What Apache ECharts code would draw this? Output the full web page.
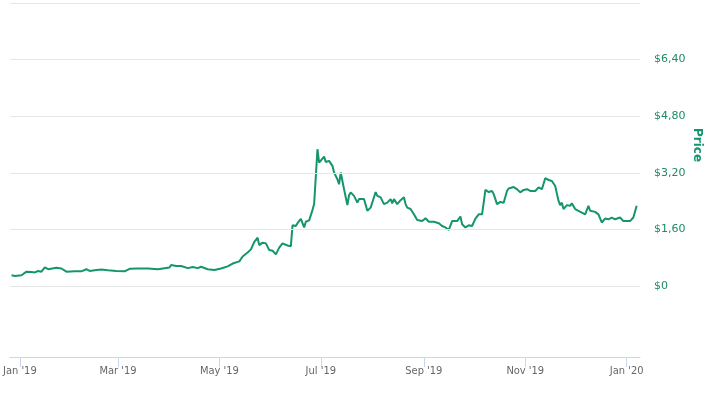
<!DOCTYPE html>
<html>
<head>
<meta charset="utf-8">
<script src="https://cdn.jsdelivr.net/npm/echarts@6/dist/echarts.min.js"></script>
<style>html,body{margin:0;padding:0;background:#fff;}#c{width:707px;height:396px;}</style>
</head>
<body>
<div id="c"></div>
<script>
var dates = ["2018-12-27","2018-12-29","2019-01-02","2019-01-05","2019-01-08","2019-01-10","2019-01-12","2019-01-14","2019-01-16","2019-01-18","2019-01-23","2019-01-26","2019-01-29","2019-01-30","2019-02-03","2019-02-07","2019-02-10","2019-02-12","2019-02-15","2019-02-19","2019-02-23","2019-02-28","2019-03-05","2019-03-08","2019-03-13","2019-03-19","2019-03-25","2019-03-29","2019-04-01","2019-04-02","2019-04-05","2019-04-08","2019-04-12","2019-04-15","2019-04-18","2019-04-20","2019-04-24","2019-04-28","2019-05-02","2019-05-06","2019-05-09","2019-05-10","2019-05-13","2019-05-15","2019-05-18","2019-05-20","2019-05-22","2019-05-23","2019-05-24","2019-05-25","2019-05-27","2019-05-29","2019-05-31","2019-06-02","2019-06-04","2019-06-06","2019-06-08","2019-06-09","2019-06-11","2019-06-13","2019-06-14","2019-06-16","2019-06-17","2019-06-19","2019-06-21","2019-06-22","2019-06-24","2019-06-26","2019-06-27","2019-06-28","2019-06-29","2019-06-30","2019-07-03","2019-07-04","2019-07-06","2019-07-08","2019-07-09","2019-07-11","2019-07-12","2019-07-13","2019-07-14","2019-07-15","2019-07-16","2019-07-17","2019-07-18","2019-07-19","2019-07-20","2019-07-21","2019-07-23","2019-07-24","2019-07-25","2019-07-27","2019-07-29","2019-07-31","2019-08-01","2019-08-03","2019-08-04","2019-08-06","2019-08-08","2019-08-10","2019-08-12","2019-08-13","2019-08-14","2019-08-16","2019-08-18","2019-08-20","2019-08-21","2019-08-22","2019-08-24","2019-08-26","2019-08-28","2019-08-31","2019-09-02","2019-09-04","2019-09-07","2019-09-10","2019-09-12","2019-09-14","2019-09-16","2019-09-18","2019-09-21","2019-09-23","2019-09-24","2019-09-26","2019-09-28","2019-09-30","2019-10-02","2019-10-04","2019-10-06","2019-10-07","2019-10-08","2019-10-10","2019-10-12","2019-10-13","2019-10-15","2019-10-17","2019-10-19","2019-10-21","2019-10-22","2019-10-23","2019-10-25","2019-10-27","2019-10-28","2019-10-29","2019-10-31","2019-11-02","2019-11-04","2019-11-07","2019-11-09","2019-11-11","2019-11-13","2019-11-15","2019-11-17","2019-11-19","2019-11-21","2019-11-22","2019-11-23","2019-11-24","2019-11-26","2019-11-28","2019-11-29","2019-12-01","2019-12-03","2019-12-05","2019-12-07","2019-12-09","2019-12-10","2019-12-13","2019-12-15","2019-12-17","2019-12-19","2019-12-21","2019-12-23","2019-12-25","2019-12-28","2019-12-30","2020-01-03","2020-01-05","2020-01-07"];
var prices = [0.31,0.29,0.31,0.41,0.40,0.39,0.43,0.41,0.53,0.48,0.52,0.50,0.41,0.45,0.42,0.42,0.48,0.43,0.45,0.47,0.45,0.43,0.42,0.49,0.50,0.50,0.48,0.51,0.53,0.60,0.57,0.57,0.51,0.54,0.51,0.55,0.48,0.46,0.50,0.56,0.64,0.68,0.70,0.84,0.95,1.04,1.25,1.31,1.37,1.16,1.23,1.21,1.02,1.00,0.90,1.09,1.21,1.17,1.15,1.13,1.72,1.70,1.78,1.90,1.66,1.82,1.86,2.15,2.32,2.30,3.87,3.49,3.66,3.51,3.54,3.40,3.21,3.02,2.88,3.21,3.23,2.74,2.69,2.29,2.57,2.65,2.66,2.55,2.36,2.46,2.51,2.46,2.13,2.22,2.18,2.66,2.55,2.51,2.32,2.36,2.46,2.34,2.46,2.32,2.43,2.51,2.32,2.22,2.18,2.03,1.87,1.84,1.92,1.82,1.82,1.78,1.70,1.66,1.59,1.84,1.84,1.97,1.75,1.66,1.72,1.70,1.91,2.03,2.03,2.36,2.72,2.66,2.69,2.60,2.32,2.38,2.36,2.69,2.76,2.72,2.80,2.74,2.79,2.65,2.72,2.74,2.69,2.69,2.79,2.74,3.05,3.00,2.97,2.83,2.41,2.29,2.36,2.18,2.29,2.27,2.34,2.18,2.13,2.08,2.03,2.27,2.13,2.10,2.03,1.80,1.91,1.89,1.94,1.89,1.94,1.84,1.84,1.94,2.27];
var xTickDates = ["2019-01-01","2019-03-01","2019-05-01","2019-07-01","2019-09-01","2019-11-01","2020-01-01"];
var yTickValues = [0, 1.6, 3.2, 4.8, 6.4];
var yGridValues = [0, 1.6, 3.2, 4.8, 6.4, 8];
var xRange = ["2018-12-26", "2020-01-09"];
var yRange = [-2, 8];
var monthNames = ["Jan","Feb","Mar","Apr","May","Jun","Jul","Aug","Sep","Oct","Nov","Dec"];

function ts(s) { var p = s.split('-'); return Date.UTC(+p[0], +p[1] - 1, +p[2]); }

var seriesData = dates.map(function (d, i) { return [ts(d), prices[i]]; });
var xTicks = xTickDates.map(ts);

var green = '#14956d';
var chart = echarts.init(document.getElementById('c'));
chart.setOption({
  animation: false,
  grid: { left: 8, right: 67, top: 3, bottom: 39, containLabel: false },
  xAxis: {
    type: 'value',
    min: ts(xRange[0]),
    max: ts(xRange[1]),
    axisLine: { show: true, onZero: false, lineStyle: { color: '#ccd6eb', width: 1 } },
    axisTick: { show: true, length: 10, lineStyle: { color: '#ccd6eb' }, customValues: xTicks },
    axisLabel: {
      customValues: xTicks,
      color: '#666666',
      fontSize: 11,
      fontFamily: 'DejaVu Sans Condensed, DejaVu Sans, sans-serif',
      margin: 9,
      formatter: function (v) {
        var d = new Date(v);
        return monthNames[d.getUTCMonth()] + " '" + String(d.getUTCFullYear()).slice(2);
      }
    },
    splitLine: { show: false }
  },
  yAxis: {
    type: 'value',
    position: 'right',
    min: yRange[0],
    max: yRange[1],
    axisLine: { show: false },
    axisTick: { show: false },
    splitLine: { show: false },
    axisLabel: {
      customValues: yTickValues,
      color: '#1d8a67',
      fontSize: 11,
      fontFamily: 'DejaVu Sans, sans-serif',
      margin: 14,
      padding: [3, 0, 0, 0],
      formatter: function (v) {
        if (Math.abs(v) < 1e-9) return '$0';
        return '$' + v.toFixed(2).replace('.', ',');
      }
    }
  },
  graphic: [{
    type: 'text',
    x: 697,
    y: 145,
    rotation: -Math.PI / 2,
    style: {
      text: 'Price',
      fill: green,
      font: 'bold 12px "DejaVu Sans", sans-serif',
      textAlign: 'center',
      textVerticalAlign: 'middle'
    }
  }],
  series: [{
    type: 'line',
    data: seriesData,
    showSymbol: false,
    symbol: 'none',
    smooth: false,
    lineStyle: { color: green, width: 2 },
    markLine: {
      silent: true,
      symbol: 'none',
      label: { show: false },
      lineStyle: { color: '#e6e6e6', width: 1, type: 'solid' },
      data: yGridValues.map(function (v) { return { yAxis: v }; })
    },
    z: 3
  }]
});
</script>
</body>
</html>
